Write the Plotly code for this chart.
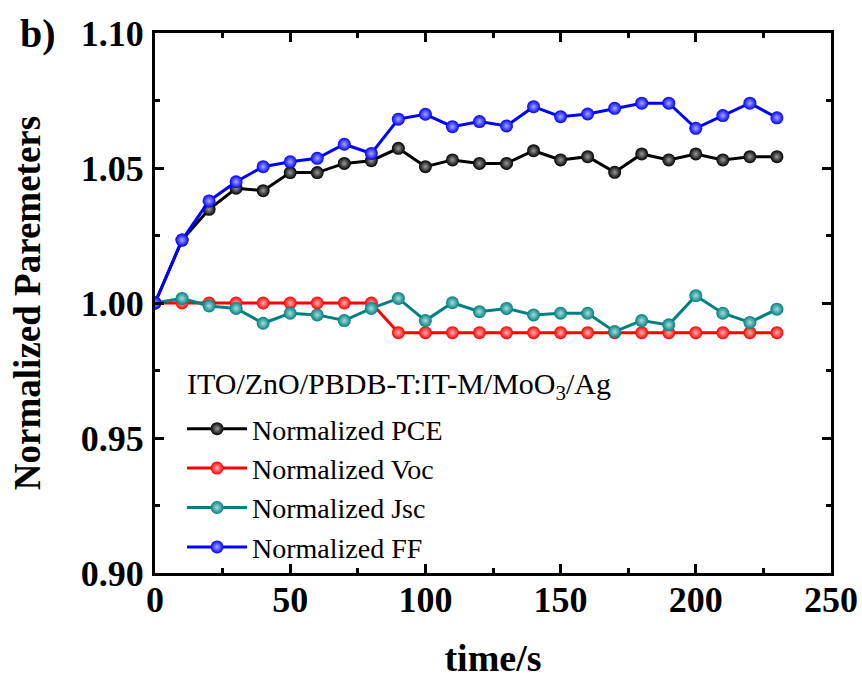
import plotly.graph_objects as go

time_s = [0, 10, 20, 30, 40, 50, 60, 70, 80, 90, 100, 110, 120, 130, 140, 150,
          160, 170, 180, 190, 200, 210, 220, 230]
pce = [1.000, 1.0233, 1.0347, 1.0425, 1.0416, 1.0483, 1.0483, 1.0517, 1.0527, 1.0573,
       1.0505, 1.0530, 1.0517, 1.0517, 1.0564, 1.0530, 1.0542, 1.0484, 1.0552, 1.0530,
       1.0552, 1.0530, 1.0542, 1.0542]
voc = [1.000, 1.000, 1.000, 1.000, 1.000, 1.000, 1.000, 1.000, 1.000, 0.989,
       0.989, 0.989, 0.989, 0.989, 0.989, 0.989, 0.989, 0.989, 0.989, 0.989,
       0.989, 0.989, 0.989, 0.989]
jsc = [1.000, 1.0017, 0.9989, 0.9980, 0.9925, 0.9962, 0.9956, 0.9935, 0.9980, 1.0017,
       0.9935, 1.0001, 0.9968, 0.9980, 0.9956, 0.9962, 0.9962, 0.9894, 0.9935, 0.9919,
       1.0027, 0.9962, 0.9928, 0.9977]
ff = [1.000, 1.0233, 1.0378, 1.0449, 1.0505, 1.0523, 1.0536, 1.0588, 1.0554, 1.0681,
      1.0699, 1.0653, 1.0672, 1.0656, 1.0727, 1.0690, 1.0700, 1.0721, 1.0740, 1.0740,
      1.0647, 1.0694, 1.0740, 1.0686]

series = [
    ("Normalized PCE", pce, "#000000", "#9a9a9a"),
    ("Normalized Voc", voc, "#ff0000", "#ffb0b0"),
    ("Normalized Jsc", jsc, "#008080", "#a8dcdc"),
    ("Normalized FF", ff, "#0000ff", "#a8a8ff"),
]
legend_heading = "ITO/ZnO/PBDB-T:IT-M/MoO<sub>3</sub>/Ag"

FONT = "Liberation Serif, Times New Roman, serif"

fig = go.Figure()
for i, (name, vals, col, hi) in enumerate(series):
    fig.add_trace(go.Scatter(
        x=time_s, y=vals, name=name, mode="lines+markers",
        legendgroup=f"g{i}",
        line=dict(color=col, width=3),
        marker=dict(size=13, color=col,
                    gradient=dict(type="radial", color=hi),
                    line=dict(width=0)),
    ))

axis_common = dict(
    showline=True, linecolor="black", linewidth=3, mirror="allticks",
    ticks="inside", tickwidth=3, ticklen=9, tickcolor="black",
    showgrid=False, zeroline=False, automargin=False,
    tickfont=dict(family=FONT, size=36, color="black", weight="bold"),
)

fig.update_xaxes(
    range=[0, 250], tick0=0, dtick=50,
    minor=dict(ticks="inside", dtick=25, ticklen=5, tickwidth=3, tickcolor="black"),
    title=dict(text="time/s", font=dict(family=FONT, size=38, color="black", weight="bold"),
               standoff=29),
    ticklabelstandoff=-7,
    **axis_common,
)
fig.update_yaxes(
    range=[0.90, 1.10], tick0=0.90, dtick=0.05, tickformat=".2f",
    minor=dict(ticks="inside", dtick=0.025, ticklen=5, tickwidth=3, tickcolor="black"),
    title=dict(text="Normalized Paremeters", font=dict(family=FONT, size=37, color="black", weight="bold"),
               standoff=29),
    ticklabelstandoff=1,
    **axis_common,
)

fig.update_layout(
    width=862, height=679,
    margin=dict(l=155, r=31, t=33, b=106),
    paper_bgcolor="white", plot_bgcolor="white",
    showlegend=True,
    legend=dict(
        x=0.04, y=0.313, xanchor="left", yanchor="top",
        bgcolor="rgba(0,0,0,0)",
        font=dict(family=FONT, size=28, color="black"),
        tracegroupgap=0,
        itemwidth=60,
    ),
    annotations=[
        dict(text="b)", x=-0.203, y=1.0, xref="paper", yref="paper",
             xanchor="left", yanchor="middle", showarrow=False,
             font=dict(family=FONT, size=40, color="black", weight="bold")),
        dict(text=legend_heading, x=(185 - 155) / 676, y=(573 - 386) / 540,
             xref="paper", yref="paper", xanchor="left", yanchor="middle",
             showarrow=False,
             font=dict(family=FONT, size=30, color="black")),
    ],
)

fig.write_html("out.html")
